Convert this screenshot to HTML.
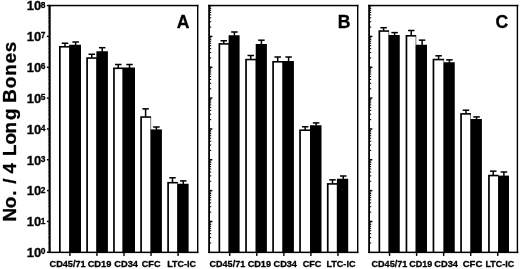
<!DOCTYPE html>
<html><head><meta charset="utf-8"><title>Figure</title>
<style>html,body{margin:0;padding:0;background:#fff}body{width:520px;height:269px;overflow:hidden}</style></head>
<body>
<svg width="520" height="269" viewBox="0 0 520 269" style="display:block">
<rect width="520" height="269" fill="#fff"/>
<rect x="59" y="46" width="10.70" height="206.35" fill="#000"/>
<rect x="60.70" y="47.60" width="8.50" height="204.75" fill="#fff"/>
<rect x="69.2" y="44.75" width="11.80" height="207.60" fill="#000"/>
<rect x="61.75" y="42.50" width="6.5" height="1.5" fill="#000"/>
<rect x="64.25" y="43.25" width="1.5" height="3.25" fill="#000"/>
<rect x="72.35" y="41.25" width="6.5" height="1.5" fill="#000"/>
<rect x="74.85" y="42.00" width="1.5" height="3.25" fill="#000"/>
<rect x="86.25" y="57.25" width="10.65" height="195.10" fill="#000"/>
<rect x="87.95" y="58.85" width="8.45" height="193.50" fill="#fff"/>
<rect x="96.4" y="51.25" width="11.50" height="201.10" fill="#000"/>
<rect x="88.50" y="53.50" width="6.5" height="1.5" fill="#000"/>
<rect x="91.00" y="54.25" width="1.5" height="3.50" fill="#000"/>
<rect x="98.95" y="46.95" width="6.5" height="1.5" fill="#000"/>
<rect x="101.45" y="47.70" width="1.5" height="4.05" fill="#000"/>
<rect x="113.1" y="67.5" width="10.00" height="184.85" fill="#000"/>
<rect x="114.80" y="69.10" width="7.80" height="183.25" fill="#fff"/>
<rect x="122.6" y="67.5" width="12.40" height="184.85" fill="#000"/>
<rect x="115.00" y="63.75" width="6.5" height="1.5" fill="#000"/>
<rect x="117.50" y="64.50" width="1.5" height="3.50" fill="#000"/>
<rect x="126.25" y="63.75" width="6.5" height="1.5" fill="#000"/>
<rect x="128.75" y="64.50" width="1.5" height="3.50" fill="#000"/>
<rect x="140.25" y="116.25" width="10.85" height="136.10" fill="#000"/>
<rect x="141.95" y="117.85" width="8.65" height="134.50" fill="#fff"/>
<rect x="150.6" y="129.4" width="11.30" height="122.95" fill="#000"/>
<rect x="142.35" y="108.10" width="6.5" height="1.5" fill="#000"/>
<rect x="144.85" y="108.85" width="1.5" height="7.90" fill="#000"/>
<rect x="153.15" y="126.25" width="6.5" height="1.5" fill="#000"/>
<rect x="155.65" y="127.00" width="1.5" height="2.90" fill="#000"/>
<rect x="167.25" y="181.9" width="10.55" height="70.45" fill="#000"/>
<rect x="168.95" y="183.50" width="8.35" height="68.85" fill="#fff"/>
<rect x="177.3" y="183.75" width="11.30" height="68.60" fill="#000"/>
<rect x="169.25" y="177.05" width="6.5" height="1.5" fill="#000"/>
<rect x="171.75" y="177.80" width="1.5" height="4.60" fill="#000"/>
<rect x="180.00" y="180.15" width="6.5" height="1.5" fill="#000"/>
<rect x="182.50" y="180.90" width="1.5" height="3.35" fill="#000"/>
<rect x="218.5" y="43.1" width="10.60" height="209.25" fill="#000"/>
<rect x="220.20" y="44.70" width="8.40" height="207.65" fill="#fff"/>
<rect x="228.6" y="35.25" width="11.00" height="217.10" fill="#000"/>
<rect x="220.50" y="40.00" width="6.5" height="1.5" fill="#000"/>
<rect x="223.00" y="40.75" width="1.5" height="2.85" fill="#000"/>
<rect x="231.15" y="31.25" width="6.5" height="1.5" fill="#000"/>
<rect x="233.65" y="32.00" width="1.5" height="3.75" fill="#000"/>
<rect x="245.2" y="58.75" width="11.00" height="193.60" fill="#000"/>
<rect x="246.90" y="60.35" width="8.80" height="192.00" fill="#fff"/>
<rect x="255.7" y="44" width="11.20" height="208.35" fill="#000"/>
<rect x="247.50" y="54.75" width="6.5" height="1.5" fill="#000"/>
<rect x="250.00" y="55.50" width="1.5" height="3.75" fill="#000"/>
<rect x="258.15" y="39.45" width="6.5" height="1.5" fill="#000"/>
<rect x="260.65" y="40.20" width="1.5" height="4.30" fill="#000"/>
<rect x="272.25" y="61" width="10.75" height="191.35" fill="#000"/>
<rect x="273.95" y="62.60" width="8.55" height="189.75" fill="#fff"/>
<rect x="282.5" y="61" width="11.40" height="191.35" fill="#000"/>
<rect x="274.45" y="56.25" width="6.5" height="1.5" fill="#000"/>
<rect x="276.95" y="57.00" width="1.5" height="4.50" fill="#000"/>
<rect x="285.35" y="56.25" width="6.5" height="1.5" fill="#000"/>
<rect x="287.85" y="57.00" width="1.5" height="4.50" fill="#000"/>
<rect x="299.2" y="129.4" width="11.30" height="122.95" fill="#000"/>
<rect x="300.90" y="131.00" width="9.10" height="121.35" fill="#fff"/>
<rect x="310" y="125.25" width="11.50" height="127.10" fill="#000"/>
<rect x="301.95" y="126.00" width="6.5" height="1.5" fill="#000"/>
<rect x="304.45" y="126.75" width="1.5" height="3.15" fill="#000"/>
<rect x="312.85" y="122.15" width="6.5" height="1.5" fill="#000"/>
<rect x="315.35" y="122.90" width="1.5" height="2.85" fill="#000"/>
<rect x="326.9" y="183.1" width="10.50" height="69.25" fill="#000"/>
<rect x="328.60" y="184.70" width="8.30" height="67.65" fill="#fff"/>
<rect x="336.9" y="178.75" width="11.30" height="73.60" fill="#000"/>
<rect x="329.25" y="179.10" width="6.5" height="1.5" fill="#000"/>
<rect x="331.75" y="179.85" width="1.5" height="3.75" fill="#000"/>
<rect x="340.00" y="175.25" width="6.5" height="1.5" fill="#000"/>
<rect x="342.50" y="176.00" width="1.5" height="3.25" fill="#000"/>
<rect x="378.5" y="30.25" width="10.60" height="222.10" fill="#000"/>
<rect x="380.20" y="31.85" width="8.40" height="220.50" fill="#fff"/>
<rect x="388.6" y="35" width="11.15" height="217.35" fill="#000"/>
<rect x="380.35" y="26.95" width="6.5" height="1.5" fill="#000"/>
<rect x="382.85" y="27.70" width="1.5" height="3.05" fill="#000"/>
<rect x="391.35" y="31.85" width="6.5" height="1.5" fill="#000"/>
<rect x="393.85" y="32.60" width="1.5" height="2.90" fill="#000"/>
<rect x="405.6" y="35" width="10.60" height="217.35" fill="#000"/>
<rect x="407.30" y="36.60" width="8.40" height="215.75" fill="#fff"/>
<rect x="415.7" y="44.75" width="11.30" height="207.60" fill="#000"/>
<rect x="408.00" y="29.75" width="6.5" height="1.5" fill="#000"/>
<rect x="410.50" y="30.50" width="1.5" height="5.00" fill="#000"/>
<rect x="418.85" y="39.40" width="6.5" height="1.5" fill="#000"/>
<rect x="421.35" y="40.15" width="1.5" height="5.10" fill="#000"/>
<rect x="432.6" y="58.75" width="11.50" height="193.60" fill="#000"/>
<rect x="434.30" y="60.35" width="9.30" height="192.00" fill="#fff"/>
<rect x="443.6" y="62.25" width="11.15" height="190.10" fill="#000"/>
<rect x="435.35" y="55.05" width="6.5" height="1.5" fill="#000"/>
<rect x="437.85" y="55.80" width="1.5" height="3.45" fill="#000"/>
<rect x="446.15" y="59.10" width="6.5" height="1.5" fill="#000"/>
<rect x="448.65" y="59.85" width="1.5" height="2.90" fill="#000"/>
<rect x="460.2" y="113.1" width="10.80" height="139.25" fill="#000"/>
<rect x="461.90" y="114.70" width="8.60" height="137.65" fill="#fff"/>
<rect x="470.5" y="119" width="11.40" height="133.35" fill="#000"/>
<rect x="462.70" y="109.45" width="6.5" height="1.5" fill="#000"/>
<rect x="465.20" y="110.20" width="1.5" height="3.40" fill="#000"/>
<rect x="473.30" y="116.15" width="6.5" height="1.5" fill="#000"/>
<rect x="475.80" y="116.90" width="1.5" height="2.60" fill="#000"/>
<rect x="488.1" y="174.75" width="10.50" height="77.60" fill="#000"/>
<rect x="489.80" y="176.35" width="8.30" height="76.00" fill="#fff"/>
<rect x="498.1" y="175.6" width="10.90" height="76.75" fill="#000"/>
<rect x="490.00" y="170.40" width="6.5" height="1.5" fill="#000"/>
<rect x="492.50" y="171.15" width="1.5" height="4.10" fill="#000"/>
<rect x="500.65" y="171.25" width="6.5" height="1.5" fill="#000"/>
<rect x="503.15" y="172.00" width="1.5" height="4.10" fill="#000"/>
<rect x="48.50" y="4.85" width="2.2" height="248.20" fill="#000"/>
<rect x="197.00" y="4.85" width="1.4" height="248.20" fill="#000"/>
<rect x="48.50" y="4.80" width="149.90" height="1.5" fill="#000"/>
<rect x="48.50" y="251.60" width="149.90" height="1.5" fill="#000"/>
<rect x="69.20" y="252.35" width="1.4" height="3.6" fill="#000"/>
<rect x="96.25" y="252.35" width="1.4" height="3.6" fill="#000"/>
<rect x="123.30" y="252.35" width="1.4" height="3.6" fill="#000"/>
<rect x="150.35" y="252.35" width="1.4" height="3.6" fill="#000"/>
<rect x="177.40" y="252.35" width="1.4" height="3.6" fill="#000"/>
<rect x="46.90" y="4.85" width="2" height="1.4" fill="#000"/>
<rect x="47.90" y="26.75" width="1" height="0.7" fill="#000" opacity="0.6"/>
<rect x="47.90" y="21.32" width="1" height="0.7" fill="#000" opacity="0.6"/>
<rect x="47.90" y="17.47" width="1" height="0.7" fill="#000" opacity="0.6"/>
<rect x="47.90" y="14.48" width="1" height="0.7" fill="#000" opacity="0.6"/>
<rect x="47.90" y="12.04" width="1" height="0.7" fill="#000" opacity="0.6"/>
<rect x="47.90" y="9.98" width="1" height="0.7" fill="#000" opacity="0.6"/>
<rect x="47.90" y="8.19" width="1" height="0.7" fill="#000" opacity="0.6"/>
<rect x="47.90" y="6.61" width="1" height="0.7" fill="#000" opacity="0.6"/>
<rect x="46.90" y="35.69" width="2" height="1.4" fill="#000"/>
<rect x="47.90" y="57.59" width="1" height="0.7" fill="#000" opacity="0.6"/>
<rect x="47.90" y="52.16" width="1" height="0.7" fill="#000" opacity="0.6"/>
<rect x="47.90" y="48.31" width="1" height="0.7" fill="#000" opacity="0.6"/>
<rect x="47.90" y="45.32" width="1" height="0.7" fill="#000" opacity="0.6"/>
<rect x="47.90" y="42.88" width="1" height="0.7" fill="#000" opacity="0.6"/>
<rect x="47.90" y="40.81" width="1" height="0.7" fill="#000" opacity="0.6"/>
<rect x="47.90" y="39.03" width="1" height="0.7" fill="#000" opacity="0.6"/>
<rect x="47.90" y="37.45" width="1" height="0.7" fill="#000" opacity="0.6"/>
<rect x="46.90" y="66.52" width="2" height="1.4" fill="#000"/>
<rect x="47.90" y="88.43" width="1" height="0.7" fill="#000" opacity="0.6"/>
<rect x="47.90" y="83.00" width="1" height="0.7" fill="#000" opacity="0.6"/>
<rect x="47.90" y="79.15" width="1" height="0.7" fill="#000" opacity="0.6"/>
<rect x="47.90" y="76.16" width="1" height="0.7" fill="#000" opacity="0.6"/>
<rect x="47.90" y="73.72" width="1" height="0.7" fill="#000" opacity="0.6"/>
<rect x="47.90" y="71.65" width="1" height="0.7" fill="#000" opacity="0.6"/>
<rect x="47.90" y="69.86" width="1" height="0.7" fill="#000" opacity="0.6"/>
<rect x="47.90" y="68.29" width="1" height="0.7" fill="#000" opacity="0.6"/>
<rect x="46.90" y="97.36" width="2" height="1.4" fill="#000"/>
<rect x="47.90" y="119.27" width="1" height="0.7" fill="#000" opacity="0.6"/>
<rect x="47.90" y="113.84" width="1" height="0.7" fill="#000" opacity="0.6"/>
<rect x="47.90" y="109.98" width="1" height="0.7" fill="#000" opacity="0.6"/>
<rect x="47.90" y="107.00" width="1" height="0.7" fill="#000" opacity="0.6"/>
<rect x="47.90" y="104.55" width="1" height="0.7" fill="#000" opacity="0.6"/>
<rect x="47.90" y="102.49" width="1" height="0.7" fill="#000" opacity="0.6"/>
<rect x="47.90" y="100.70" width="1" height="0.7" fill="#000" opacity="0.6"/>
<rect x="47.90" y="99.12" width="1" height="0.7" fill="#000" opacity="0.6"/>
<rect x="46.90" y="128.20" width="2" height="1.4" fill="#000"/>
<rect x="47.90" y="150.10" width="1" height="0.7" fill="#000" opacity="0.6"/>
<rect x="47.90" y="144.67" width="1" height="0.7" fill="#000" opacity="0.6"/>
<rect x="47.90" y="140.82" width="1" height="0.7" fill="#000" opacity="0.6"/>
<rect x="47.90" y="137.83" width="1" height="0.7" fill="#000" opacity="0.6"/>
<rect x="47.90" y="135.39" width="1" height="0.7" fill="#000" opacity="0.6"/>
<rect x="47.90" y="133.33" width="1" height="0.7" fill="#000" opacity="0.6"/>
<rect x="47.90" y="131.54" width="1" height="0.7" fill="#000" opacity="0.6"/>
<rect x="47.90" y="129.96" width="1" height="0.7" fill="#000" opacity="0.6"/>
<rect x="46.90" y="159.04" width="2" height="1.4" fill="#000"/>
<rect x="47.90" y="180.94" width="1" height="0.7" fill="#000" opacity="0.6"/>
<rect x="47.90" y="175.51" width="1" height="0.7" fill="#000" opacity="0.6"/>
<rect x="47.90" y="171.66" width="1" height="0.7" fill="#000" opacity="0.6"/>
<rect x="47.90" y="168.67" width="1" height="0.7" fill="#000" opacity="0.6"/>
<rect x="47.90" y="166.23" width="1" height="0.7" fill="#000" opacity="0.6"/>
<rect x="47.90" y="164.16" width="1" height="0.7" fill="#000" opacity="0.6"/>
<rect x="47.90" y="162.38" width="1" height="0.7" fill="#000" opacity="0.6"/>
<rect x="47.90" y="160.80" width="1" height="0.7" fill="#000" opacity="0.6"/>
<rect x="46.90" y="189.88" width="2" height="1.4" fill="#000"/>
<rect x="47.90" y="211.78" width="1" height="0.7" fill="#000" opacity="0.6"/>
<rect x="47.90" y="206.35" width="1" height="0.7" fill="#000" opacity="0.6"/>
<rect x="47.90" y="202.50" width="1" height="0.7" fill="#000" opacity="0.6"/>
<rect x="47.90" y="199.51" width="1" height="0.7" fill="#000" opacity="0.6"/>
<rect x="47.90" y="197.07" width="1" height="0.7" fill="#000" opacity="0.6"/>
<rect x="47.90" y="195.00" width="1" height="0.7" fill="#000" opacity="0.6"/>
<rect x="47.90" y="193.21" width="1" height="0.7" fill="#000" opacity="0.6"/>
<rect x="47.90" y="191.64" width="1" height="0.7" fill="#000" opacity="0.6"/>
<rect x="46.90" y="220.71" width="2" height="1.4" fill="#000"/>
<rect x="47.90" y="242.62" width="1" height="0.7" fill="#000" opacity="0.6"/>
<rect x="47.90" y="237.19" width="1" height="0.7" fill="#000" opacity="0.6"/>
<rect x="47.90" y="233.33" width="1" height="0.7" fill="#000" opacity="0.6"/>
<rect x="47.90" y="230.35" width="1" height="0.7" fill="#000" opacity="0.6"/>
<rect x="47.90" y="227.90" width="1" height="0.7" fill="#000" opacity="0.6"/>
<rect x="47.90" y="225.84" width="1" height="0.7" fill="#000" opacity="0.6"/>
<rect x="47.90" y="224.05" width="1" height="0.7" fill="#000" opacity="0.6"/>
<rect x="47.90" y="222.47" width="1" height="0.7" fill="#000" opacity="0.6"/>
<rect x="46.90" y="251.55" width="2" height="1.4" fill="#000"/>
<rect x="208.20" y="4.85" width="1.8" height="248.20" fill="#000"/>
<rect x="357.00" y="4.85" width="1.4" height="248.20" fill="#000"/>
<rect x="208.20" y="4.80" width="150.20" height="1.5" fill="#000"/>
<rect x="208.20" y="251.60" width="150.20" height="1.5" fill="#000"/>
<rect x="229.05" y="252.35" width="1.4" height="3.6" fill="#000"/>
<rect x="256.10" y="252.35" width="1.4" height="3.6" fill="#000"/>
<rect x="283.15" y="252.35" width="1.4" height="3.6" fill="#000"/>
<rect x="310.20" y="252.35" width="1.4" height="3.6" fill="#000"/>
<rect x="337.25" y="252.35" width="1.4" height="3.6" fill="#000"/>
<rect x="209.90" y="26.55" width="1.3" height="1.1" fill="#000"/>
<rect x="209.90" y="21.12" width="1.3" height="1.1" fill="#000"/>
<rect x="209.90" y="17.27" width="1.3" height="1.1" fill="#000"/>
<rect x="209.90" y="14.28" width="1.3" height="1.1" fill="#000"/>
<rect x="209.90" y="11.84" width="1.3" height="1.1" fill="#000"/>
<rect x="209.90" y="9.78" width="1.3" height="1.1" fill="#000"/>
<rect x="209.90" y="7.99" width="1.3" height="1.1" fill="#000"/>
<rect x="209.90" y="6.41" width="1.3" height="1.1" fill="#000"/>
<rect x="209.90" y="35.69" width="2.5" height="1.4" fill="#000"/>
<rect x="209.90" y="57.39" width="1.3" height="1.1" fill="#000"/>
<rect x="209.90" y="51.96" width="1.3" height="1.1" fill="#000"/>
<rect x="209.90" y="48.11" width="1.3" height="1.1" fill="#000"/>
<rect x="209.90" y="45.12" width="1.3" height="1.1" fill="#000"/>
<rect x="209.90" y="42.68" width="1.3" height="1.1" fill="#000"/>
<rect x="209.90" y="40.61" width="1.3" height="1.1" fill="#000"/>
<rect x="209.90" y="38.83" width="1.3" height="1.1" fill="#000"/>
<rect x="209.90" y="37.25" width="1.3" height="1.1" fill="#000"/>
<rect x="209.90" y="66.52" width="2.5" height="1.4" fill="#000"/>
<rect x="209.90" y="88.23" width="1.3" height="1.1" fill="#000"/>
<rect x="209.90" y="82.80" width="1.3" height="1.1" fill="#000"/>
<rect x="209.90" y="78.95" width="1.3" height="1.1" fill="#000"/>
<rect x="209.90" y="75.96" width="1.3" height="1.1" fill="#000"/>
<rect x="209.90" y="73.52" width="1.3" height="1.1" fill="#000"/>
<rect x="209.90" y="71.45" width="1.3" height="1.1" fill="#000"/>
<rect x="209.90" y="69.66" width="1.3" height="1.1" fill="#000"/>
<rect x="209.90" y="68.09" width="1.3" height="1.1" fill="#000"/>
<rect x="209.90" y="97.36" width="2.5" height="1.4" fill="#000"/>
<rect x="209.90" y="119.07" width="1.3" height="1.1" fill="#000"/>
<rect x="209.90" y="113.64" width="1.3" height="1.1" fill="#000"/>
<rect x="209.90" y="109.78" width="1.3" height="1.1" fill="#000"/>
<rect x="209.90" y="106.80" width="1.3" height="1.1" fill="#000"/>
<rect x="209.90" y="104.35" width="1.3" height="1.1" fill="#000"/>
<rect x="209.90" y="102.29" width="1.3" height="1.1" fill="#000"/>
<rect x="209.90" y="100.50" width="1.3" height="1.1" fill="#000"/>
<rect x="209.90" y="98.92" width="1.3" height="1.1" fill="#000"/>
<rect x="209.90" y="128.20" width="2.5" height="1.4" fill="#000"/>
<rect x="209.90" y="149.90" width="1.3" height="1.1" fill="#000"/>
<rect x="209.90" y="144.47" width="1.3" height="1.1" fill="#000"/>
<rect x="209.90" y="140.62" width="1.3" height="1.1" fill="#000"/>
<rect x="209.90" y="137.63" width="1.3" height="1.1" fill="#000"/>
<rect x="209.90" y="135.19" width="1.3" height="1.1" fill="#000"/>
<rect x="209.90" y="133.13" width="1.3" height="1.1" fill="#000"/>
<rect x="209.90" y="131.34" width="1.3" height="1.1" fill="#000"/>
<rect x="209.90" y="129.76" width="1.3" height="1.1" fill="#000"/>
<rect x="209.90" y="159.04" width="2.5" height="1.4" fill="#000"/>
<rect x="209.90" y="180.74" width="1.3" height="1.1" fill="#000"/>
<rect x="209.90" y="175.31" width="1.3" height="1.1" fill="#000"/>
<rect x="209.90" y="171.46" width="1.3" height="1.1" fill="#000"/>
<rect x="209.90" y="168.47" width="1.3" height="1.1" fill="#000"/>
<rect x="209.90" y="166.03" width="1.3" height="1.1" fill="#000"/>
<rect x="209.90" y="163.96" width="1.3" height="1.1" fill="#000"/>
<rect x="209.90" y="162.18" width="1.3" height="1.1" fill="#000"/>
<rect x="209.90" y="160.60" width="1.3" height="1.1" fill="#000"/>
<rect x="209.90" y="189.88" width="2.5" height="1.4" fill="#000"/>
<rect x="209.90" y="211.58" width="1.3" height="1.1" fill="#000"/>
<rect x="209.90" y="206.15" width="1.3" height="1.1" fill="#000"/>
<rect x="209.90" y="202.30" width="1.3" height="1.1" fill="#000"/>
<rect x="209.90" y="199.31" width="1.3" height="1.1" fill="#000"/>
<rect x="209.90" y="196.87" width="1.3" height="1.1" fill="#000"/>
<rect x="209.90" y="194.80" width="1.3" height="1.1" fill="#000"/>
<rect x="209.90" y="193.01" width="1.3" height="1.1" fill="#000"/>
<rect x="209.90" y="191.44" width="1.3" height="1.1" fill="#000"/>
<rect x="209.90" y="220.71" width="2.5" height="1.4" fill="#000"/>
<rect x="209.90" y="242.42" width="1.3" height="1.1" fill="#000"/>
<rect x="209.90" y="236.99" width="1.3" height="1.1" fill="#000"/>
<rect x="209.90" y="233.13" width="1.3" height="1.1" fill="#000"/>
<rect x="209.90" y="230.15" width="1.3" height="1.1" fill="#000"/>
<rect x="209.90" y="227.70" width="1.3" height="1.1" fill="#000"/>
<rect x="209.90" y="225.64" width="1.3" height="1.1" fill="#000"/>
<rect x="209.90" y="223.85" width="1.3" height="1.1" fill="#000"/>
<rect x="209.90" y="222.27" width="1.3" height="1.1" fill="#000"/>
<rect x="368.20" y="4.85" width="1.8" height="248.20" fill="#000"/>
<rect x="516.70" y="4.85" width="1.4" height="248.20" fill="#000"/>
<rect x="368.20" y="4.80" width="150.20" height="1.5" fill="#000"/>
<rect x="368.20" y="251.60" width="150.20" height="1.5" fill="#000"/>
<rect x="388.85" y="252.35" width="1.4" height="3.6" fill="#000"/>
<rect x="415.90" y="252.35" width="1.4" height="3.6" fill="#000"/>
<rect x="442.95" y="252.35" width="1.4" height="3.6" fill="#000"/>
<rect x="470.00" y="252.35" width="1.4" height="3.6" fill="#000"/>
<rect x="497.05" y="252.35" width="1.4" height="3.6" fill="#000"/>
<rect x="369.90" y="26.55" width="1.3" height="1.1" fill="#000"/>
<rect x="369.90" y="21.12" width="1.3" height="1.1" fill="#000"/>
<rect x="369.90" y="17.27" width="1.3" height="1.1" fill="#000"/>
<rect x="369.90" y="14.28" width="1.3" height="1.1" fill="#000"/>
<rect x="369.90" y="11.84" width="1.3" height="1.1" fill="#000"/>
<rect x="369.90" y="9.78" width="1.3" height="1.1" fill="#000"/>
<rect x="369.90" y="7.99" width="1.3" height="1.1" fill="#000"/>
<rect x="369.90" y="6.41" width="1.3" height="1.1" fill="#000"/>
<rect x="369.90" y="35.69" width="2.5" height="1.4" fill="#000"/>
<rect x="369.90" y="57.39" width="1.3" height="1.1" fill="#000"/>
<rect x="369.90" y="51.96" width="1.3" height="1.1" fill="#000"/>
<rect x="369.90" y="48.11" width="1.3" height="1.1" fill="#000"/>
<rect x="369.90" y="45.12" width="1.3" height="1.1" fill="#000"/>
<rect x="369.90" y="42.68" width="1.3" height="1.1" fill="#000"/>
<rect x="369.90" y="40.61" width="1.3" height="1.1" fill="#000"/>
<rect x="369.90" y="38.83" width="1.3" height="1.1" fill="#000"/>
<rect x="369.90" y="37.25" width="1.3" height="1.1" fill="#000"/>
<rect x="369.90" y="66.52" width="2.5" height="1.4" fill="#000"/>
<rect x="369.90" y="88.23" width="1.3" height="1.1" fill="#000"/>
<rect x="369.90" y="82.80" width="1.3" height="1.1" fill="#000"/>
<rect x="369.90" y="78.95" width="1.3" height="1.1" fill="#000"/>
<rect x="369.90" y="75.96" width="1.3" height="1.1" fill="#000"/>
<rect x="369.90" y="73.52" width="1.3" height="1.1" fill="#000"/>
<rect x="369.90" y="71.45" width="1.3" height="1.1" fill="#000"/>
<rect x="369.90" y="69.66" width="1.3" height="1.1" fill="#000"/>
<rect x="369.90" y="68.09" width="1.3" height="1.1" fill="#000"/>
<rect x="369.90" y="97.36" width="2.5" height="1.4" fill="#000"/>
<rect x="369.90" y="119.07" width="1.3" height="1.1" fill="#000"/>
<rect x="369.90" y="113.64" width="1.3" height="1.1" fill="#000"/>
<rect x="369.90" y="109.78" width="1.3" height="1.1" fill="#000"/>
<rect x="369.90" y="106.80" width="1.3" height="1.1" fill="#000"/>
<rect x="369.90" y="104.35" width="1.3" height="1.1" fill="#000"/>
<rect x="369.90" y="102.29" width="1.3" height="1.1" fill="#000"/>
<rect x="369.90" y="100.50" width="1.3" height="1.1" fill="#000"/>
<rect x="369.90" y="98.92" width="1.3" height="1.1" fill="#000"/>
<rect x="369.90" y="128.20" width="2.5" height="1.4" fill="#000"/>
<rect x="369.90" y="149.90" width="1.3" height="1.1" fill="#000"/>
<rect x="369.90" y="144.47" width="1.3" height="1.1" fill="#000"/>
<rect x="369.90" y="140.62" width="1.3" height="1.1" fill="#000"/>
<rect x="369.90" y="137.63" width="1.3" height="1.1" fill="#000"/>
<rect x="369.90" y="135.19" width="1.3" height="1.1" fill="#000"/>
<rect x="369.90" y="133.13" width="1.3" height="1.1" fill="#000"/>
<rect x="369.90" y="131.34" width="1.3" height="1.1" fill="#000"/>
<rect x="369.90" y="129.76" width="1.3" height="1.1" fill="#000"/>
<rect x="369.90" y="159.04" width="2.5" height="1.4" fill="#000"/>
<rect x="369.90" y="180.74" width="1.3" height="1.1" fill="#000"/>
<rect x="369.90" y="175.31" width="1.3" height="1.1" fill="#000"/>
<rect x="369.90" y="171.46" width="1.3" height="1.1" fill="#000"/>
<rect x="369.90" y="168.47" width="1.3" height="1.1" fill="#000"/>
<rect x="369.90" y="166.03" width="1.3" height="1.1" fill="#000"/>
<rect x="369.90" y="163.96" width="1.3" height="1.1" fill="#000"/>
<rect x="369.90" y="162.18" width="1.3" height="1.1" fill="#000"/>
<rect x="369.90" y="160.60" width="1.3" height="1.1" fill="#000"/>
<rect x="369.90" y="189.88" width="2.5" height="1.4" fill="#000"/>
<rect x="369.90" y="211.58" width="1.3" height="1.1" fill="#000"/>
<rect x="369.90" y="206.15" width="1.3" height="1.1" fill="#000"/>
<rect x="369.90" y="202.30" width="1.3" height="1.1" fill="#000"/>
<rect x="369.90" y="199.31" width="1.3" height="1.1" fill="#000"/>
<rect x="369.90" y="196.87" width="1.3" height="1.1" fill="#000"/>
<rect x="369.90" y="194.80" width="1.3" height="1.1" fill="#000"/>
<rect x="369.90" y="193.01" width="1.3" height="1.1" fill="#000"/>
<rect x="369.90" y="191.44" width="1.3" height="1.1" fill="#000"/>
<rect x="369.90" y="220.71" width="2.5" height="1.4" fill="#000"/>
<rect x="369.90" y="242.42" width="1.3" height="1.1" fill="#000"/>
<rect x="369.90" y="236.99" width="1.3" height="1.1" fill="#000"/>
<rect x="369.90" y="233.13" width="1.3" height="1.1" fill="#000"/>
<rect x="369.90" y="230.15" width="1.3" height="1.1" fill="#000"/>
<rect x="369.90" y="227.70" width="1.3" height="1.1" fill="#000"/>
<rect x="369.90" y="225.64" width="1.3" height="1.1" fill="#000"/>
<rect x="369.90" y="223.85" width="1.3" height="1.1" fill="#000"/>
<rect x="369.90" y="222.27" width="1.3" height="1.1" fill="#000"/>
<g font-family="'Liberation Sans', Arial, Helvetica, sans-serif" font-weight="700" fill="#000" stroke="#000" stroke-width="0.3" stroke-linejoin="round">
<text x="26.7" y="10.35" font-size="13.3" textLength="14.5" lengthAdjust="spacingAndGlyphs">10</text>
<text x="40.7" y="7.65" font-size="9.4" textLength="4.7" lengthAdjust="spacingAndGlyphs">8</text>
<text x="26.7" y="41.19" font-size="13.3" textLength="14.5" lengthAdjust="spacingAndGlyphs">10</text>
<text x="40.7" y="38.49" font-size="9.4" textLength="4.7" lengthAdjust="spacingAndGlyphs">7</text>
<text x="26.7" y="72.02" font-size="13.3" textLength="14.5" lengthAdjust="spacingAndGlyphs">10</text>
<text x="40.7" y="69.32" font-size="9.4" textLength="4.7" lengthAdjust="spacingAndGlyphs">6</text>
<text x="26.7" y="102.86" font-size="13.3" textLength="14.5" lengthAdjust="spacingAndGlyphs">10</text>
<text x="40.7" y="100.16" font-size="9.4" textLength="4.7" lengthAdjust="spacingAndGlyphs">5</text>
<text x="26.7" y="133.70" font-size="13.3" textLength="14.5" lengthAdjust="spacingAndGlyphs">10</text>
<text x="40.7" y="131.00" font-size="9.4" textLength="4.7" lengthAdjust="spacingAndGlyphs">4</text>
<text x="26.7" y="164.54" font-size="13.3" textLength="14.5" lengthAdjust="spacingAndGlyphs">10</text>
<text x="40.7" y="161.84" font-size="9.4" textLength="4.7" lengthAdjust="spacingAndGlyphs">3</text>
<text x="26.7" y="195.38" font-size="13.3" textLength="14.5" lengthAdjust="spacingAndGlyphs">10</text>
<text x="40.7" y="192.67" font-size="9.4" textLength="4.7" lengthAdjust="spacingAndGlyphs">2</text>
<text x="26.7" y="226.21" font-size="13.3" textLength="14.5" lengthAdjust="spacingAndGlyphs">10</text>
<text x="40.7" y="223.51" font-size="9.4" textLength="4.7" lengthAdjust="spacingAndGlyphs">1</text>
<text x="26.7" y="257.05" font-size="13.3" textLength="14.5" lengthAdjust="spacingAndGlyphs">10</text>
<text x="40.7" y="254.35" font-size="9.4" textLength="4.7" lengthAdjust="spacingAndGlyphs">0</text>
<text x="49.55" y="266.8" font-size="9" textLength="36.15" lengthAdjust="spacingAndGlyphs">CD45/71</text>
<text x="87.65" y="266.8" font-size="9" textLength="23.80" lengthAdjust="spacingAndGlyphs">CD19</text>
<text x="114.30" y="266.8" font-size="9" textLength="23.65" lengthAdjust="spacingAndGlyphs">CD34</text>
<text x="141.80" y="266.8" font-size="9" textLength="18.65" lengthAdjust="spacingAndGlyphs">CFC</text>
<text x="167.30" y="266.8" font-size="9" textLength="28.75" lengthAdjust="spacingAndGlyphs">LTC-IC</text>
<text x="209.55" y="266.8" font-size="9" textLength="35.65" lengthAdjust="spacingAndGlyphs">CD45/71</text>
<text x="247.65" y="266.8" font-size="9" textLength="23.40" lengthAdjust="spacingAndGlyphs">CD19</text>
<text x="273.55" y="266.8" font-size="9" textLength="23.40" lengthAdjust="spacingAndGlyphs">CD34</text>
<text x="302.65" y="266.8" font-size="9" textLength="18.80" lengthAdjust="spacingAndGlyphs">CFC</text>
<text x="326.45" y="266.8" font-size="9" textLength="29.00" lengthAdjust="spacingAndGlyphs">LTC-IC</text>
<text x="371.45" y="266.8" font-size="9" textLength="35.90" lengthAdjust="spacingAndGlyphs">CD45/71</text>
<text x="409.30" y="266.8" font-size="9" textLength="23.05" lengthAdjust="spacingAndGlyphs">CD19</text>
<text x="434.30" y="266.8" font-size="9" textLength="23.65" lengthAdjust="spacingAndGlyphs">CD34</text>
<text x="462.65" y="266.8" font-size="9" textLength="19.70" lengthAdjust="spacingAndGlyphs">CFC</text>
<text x="485.55" y="266.8" font-size="9" textLength="28.65" lengthAdjust="spacingAndGlyphs">LTC-IC</text>
<text x="183.12" y="27.7" font-size="17.6" text-anchor="middle">A</text>
<text x="344.12" y="27.7" font-size="17.6" text-anchor="middle">B</text>
<text x="501.85" y="27.7" font-size="17.6" text-anchor="middle">C</text>
<text transform="translate(16,222.1) rotate(-90)" font-size="18.8" x="0.52 13.98 26.35 31.57 38.24 43.46 48.68 59.14 66.02 77.61 88.52 102.20 113.69 119.36 133.91 146.42 158.83 169.98" y="0">No. / 4 Long Bones</text>
</g>
</svg>
</body></html>
